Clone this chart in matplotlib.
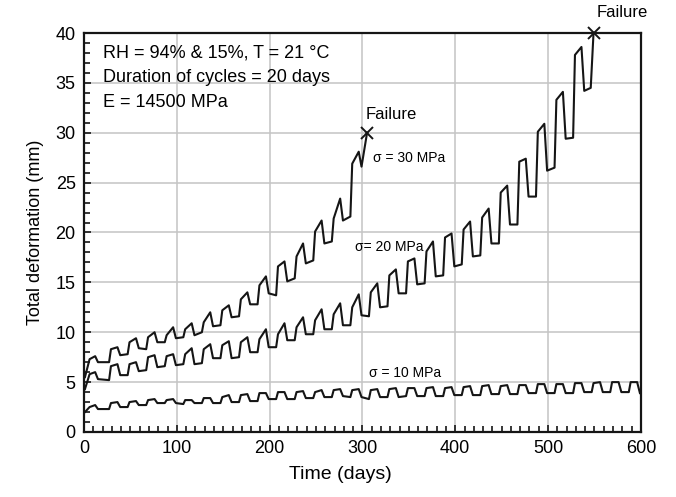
import numpy as np
import matplotlib
matplotlib.use("Agg")
import matplotlib.pyplot as plt
from matplotlib.ticker import MultipleLocator

plt.rcParams['font.family'] = ['Liberation Sans', 'DejaVu Sans']

# cycle timing (days): cycles of 20 days, phase points inside a cycle
cycle_len = 20
first_jump = 7
phase_days = [0, 2, 9, 12]          # start of wet, after jump, peak, after drop
first_cycle_days = [1, 6, 12, 15]

# sigma = 30 MPa : low before jump, after jump, peak, after drop (per cycle)
s30_low = [5.5, 7.0, 7.8, 8.3, 9.0, 9.5, 10.0, 10.7, 11.6, 12.8, 13.7, 15.4, 17.2, 19.1, 21.6]
s30_jump = [7.3, 8.3, 9.0, 9.5, 9.7, 10.3, 11.0, 12.2, 13.3, 14.7, 16.6, 17.6, 20.1, 21.4, 26.9]
s30_peak = [7.6, 8.5, 9.4, 10.0, 10.5, 10.9, 12.0, 12.7, 14.0, 15.6, 17.1, 18.9, 21.2, 23.4, 28.1]
s30_drop = [7.0, 7.7, 8.4, 9.0, 9.4, 9.7, 10.6, 11.5, 12.8, 13.9, 15.1, 16.9, 18.9, 21.2, 26.6]
s30_end_t = [305]
s30_end_v = [30.0]

# sigma = 20 MPa
s20_low = [4.3, 5.2, 5.7, 6.2, 6.6, 6.8, 6.9, 7.4, 7.5, 8.0, 8.5, 9.2, 9.8, 10.3, 10.7,
           11.6, 12.6, 13.9, 14.9, 15.7, 16.8, 17.7, 18.9, 20.8, 23.6, 26.5, 29.5]
s20_jump = [5.8, 6.6, 6.8, 7.5, 7.6, 7.8, 8.3, 8.7, 9.0, 9.3, 9.8, 10.5, 11.2, 11.8, 12.5,
            14.0, 15.7, 17.1, 18.1, 19.5, 20.3, 21.5, 24.0, 27.1, 30.1, 33.3, 37.8]
s20_peak = [6.0, 6.8, 7.0, 7.7, 7.8, 8.4, 8.8, 9.1, 9.5, 10.3, 10.9, 11.5, 12.3, 12.9, 13.8,
            14.9, 16.3, 17.4, 19.1, 19.9, 21.1, 22.4, 24.7, 27.4, 30.9, 34.1, 38.6]
s20_drop = [5.3, 5.7, 6.1, 6.5, 6.7, 6.8, 7.4, 7.4, 8.0, 8.5, 9.2, 9.8, 10.3, 10.7, 11.7,
            12.5, 13.9, 14.8, 15.6, 16.6, 17.6, 18.9, 20.8, 23.6, 26.2, 29.4, 34.2]
s20_end_t = [546, 549]
s20_end_v = [34.5, 40.0]

# sigma = 10 MPa
s10_low = [2.0, 2.3, 2.5, 2.7, 2.9, 2.8, 2.9, 2.9, 3.0, 3.1, 3.3, 3.3, 3.4, 3.5, 3.5,
           3.3, 3.5, 3.6, 3.6, 3.6, 3.7, 3.7, 3.8, 3.8, 3.9, 3.9, 3.9, 4.0, 4.0, 4.0]
s10_jump = [2.5, 2.9, 3.0, 3.2, 3.2, 3.2, 3.4, 3.5, 3.7, 3.9, 4.0, 4.0, 4.0, 4.2, 4.2,
            4.2, 4.3, 4.4, 4.4, 4.4, 4.5, 4.6, 4.6, 4.7, 4.8, 4.8, 4.9, 4.9, 5.0, 5.0]
s10_peak = [2.7, 3.0, 3.1, 3.3, 3.3, 3.2, 3.4, 3.7, 3.8, 3.9, 4.0, 4.1, 4.2, 4.3, 4.3,
            4.3, 4.4, 4.4, 4.5, 4.5, 4.6, 4.7, 4.7, 4.7, 4.8, 4.8, 4.9, 5.0, 5.0, 5.0]
s10_drop = [2.3, 2.5, 2.7, 2.9, 2.9, 2.9, 2.9, 3.0, 3.1, 3.3, 3.3, 3.4, 3.5, 3.6, 3.5,
            3.5, 3.5, 3.6, 3.6, 3.7, 3.7, 3.8, 3.8, 3.9, 3.9, 3.9, 4.0, 4.0, 4.0, 3.9]
s10_end_t = []
s10_end_v = []

failure_t = [305, 549]
failure_v = [30.0, 40.0]


def build(low, jump, peak, drop, end_t, end_v):
    t, v = [], []
    for k in range(len(low)):
        if k == 0:
            days = first_cycle_days
        else:
            days = [first_jump + cycle_len * k + p for p in phase_days]
        t += days
        v += [low[k], jump[k], peak[k], drop[k]]
    return np.array(t + end_t), np.array(v + end_v)


fig = plt.figure(figsize=(6.76, 4.97), dpi=100)
ax = fig.add_axes([0.1243, 0.1308, 0.8237, 0.8028])

for arrs in [(s30_low, s30_jump, s30_peak, s30_drop, s30_end_t, s30_end_v),
             (s20_low, s20_jump, s20_peak, s20_drop, s20_end_t, s20_end_v),
             (s10_low, s10_jump, s10_peak, s10_drop, s10_end_t, s10_end_v)]:
    t, v = build(*arrs)
    ax.plot(t, v, color='#151515', lw=1.5, zorder=3)

ax.plot(failure_t, failure_v, 'x', color='#151515', ms=9, mew=1.4, clip_on=False, zorder=4)

ax.set_xlim(0, 600)
ax.set_ylim(0, 40)
ax.xaxis.set_major_locator(MultipleLocator(100))
ax.yaxis.set_major_locator(MultipleLocator(5))
ax.xaxis.set_minor_locator(MultipleLocator(10))
ax.yaxis.set_minor_locator(MultipleLocator(1))
ax.tick_params(which='both', direction='in', top=False, right=False, labelsize=13, color='#151515')
ax.tick_params(which='major', length=5, width=1.2, pad=6)
ax.tick_params(which='minor', length=4, width=1.2)
ax.grid(True, which='major', color='#c4c4c4', lw=1.1, zorder=0)
for s in ax.spines.values():
    s.set_linewidth(1.6)
    s.set_color('#151515')

ax.set_xlabel('Time (days)', fontsize=14, labelpad=4)
ax.xaxis.set_label_coords(0.46, -0.085)
ax.set_ylabel('Total deformation (mm)', fontsize=13, labelpad=8)

ax.text(20.5, 38.0, 'RH = 94% & 15%, T = 21 °C', fontsize=13, va='center', ha='left')
ax.text(20.5, 35.5, 'Duration of cycles = 20 days', fontsize=13, va='center', ha='left')
ax.text(20.5, 33.0, 'E = 14500 MPa', fontsize=13, va='center', ha='left')

ax.text(331, 31.8, 'Failure', fontsize=12, ha='center', va='center')
ax.text(580, 42.1, 'Failure', fontsize=12, ha='center', va='center', clip_on=False)
ax.text(350, 27.5, 'σ = 30 MPa', fontsize=10, ha='center', va='center')
ax.text(329, 18.5, 'σ= 20 MPa', fontsize=10, ha='center', va='center')
ax.text(346, 5.9, 'σ = 10 MPa', fontsize=10, ha='center', va='center')

fig.savefig('out.png', dpi=100)
